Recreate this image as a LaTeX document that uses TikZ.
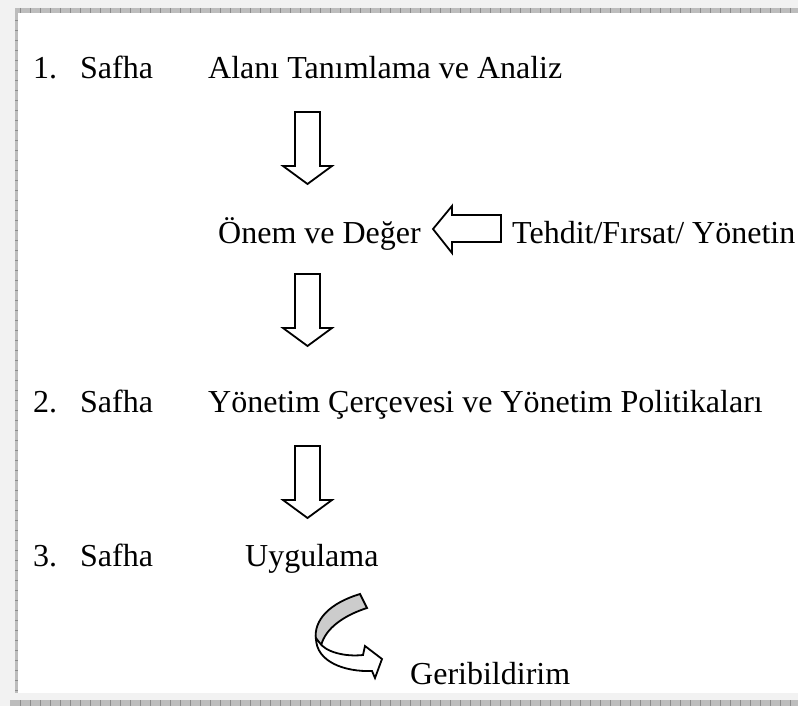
\documentclass[tikz,border=0pt]{standalone}
\usepackage{fontspec}
\setmainfont{Liberation Serif}
\usetikzlibrary{positioning}

\tikzset{
  txt/.style = {anchor=base west, inner sep=0pt, font=\fontsize{32}{38}\selectfont},
  blockarrow/.style = {draw=black, fill=white, line width=1.8pt, line join=miter},
  strip/.style = {fill=black!26, draw=none}
}

\begin{document}
\begin{tikzpicture}[x=1pt, y=-1pt]
    \useasboundingbox (0,0) rectangle (798,706);
    % frame
    \fill[black!5] (0,0) rectangle (798,706);
    \fill[white] (18,13) rectangle (798,693);
    \fill[strip] (16,8) rectangle (798,13);
    \fill[strip] (15,8) rectangle (18,693);
    \fill[strip] (10,700) rectangle (798,706);
    \foreach \x in {20,30,...,790} {
        \draw[black!45, line width=0.6pt] (\x,8) -- (\x,13);
        \draw[black!45, line width=0.6pt] (\x,700) -- (\x,706);
    }
    \foreach \y in {20,30,...,690}
        \draw[black!45, line width=0.6pt] (15,\y) -- (18,\y);

    % texts
    \node[txt] (n1) at (33,79)   {1.};
    \node[txt] (s1) at (80,79)   {Safha};
    \node[txt] (t1) at (208,79)  {Alanı Tanımlama ve Analiz};
    \node[txt] (t2) at (218,243) {Önem ve Değer};
    \node[txt] (t3) at (512,243) {Tehdit/Fırsat/ Yönetin};
    \node[txt] (n2) at (33,412)  {2.};
    \node[txt] (s2) at (80,412)  {Safha};
    \node[txt] (t4) at (208,412) {Yönetim Çerçevesi ve Yönetim Politikaları};
    \node[txt] (n3) at (33,566)  {3.};
    \node[txt] (s3) at (80,566)  {Safha};
    \node[txt] (t5) at (245,566) {Uygulama};
    \node[txt] (t6) at (410,684) {Geribildirim};

    % block arrows
    \foreach \t in {112,274,446}
        \draw[blockarrow] (295,\t) -- (320,\t) -- (320,\t+54) -- (332,\t+54)
            -- (307.5,\t+72) -- (283,\t+54) -- (295,\t+54) -- cycle;
    \draw[blockarrow] (501,215) -- (452,215) -- (452,206) -- (433,229)
        -- (452,253) -- (452,242) -- (501,242) -- cycle;

    % feedback arrow
    \draw[blockarrow, fill=black!20] (360,594) -- (367,608)
        .. controls (345,615) and (325,628) .. (321,646)
        -- (316,640) .. controls (313,620) and (330,603) .. (360,594) -- cycle;
    \draw[blockarrow] (316,638) .. controls (316,662) and (345,672) .. (372,671)
        -- (375,678) -- (382,659) -- (365,646) -- (363,655)
        .. controls (345,657) and (325,652) .. (319,642) -- cycle;
\end{tikzpicture}
\end{document}
